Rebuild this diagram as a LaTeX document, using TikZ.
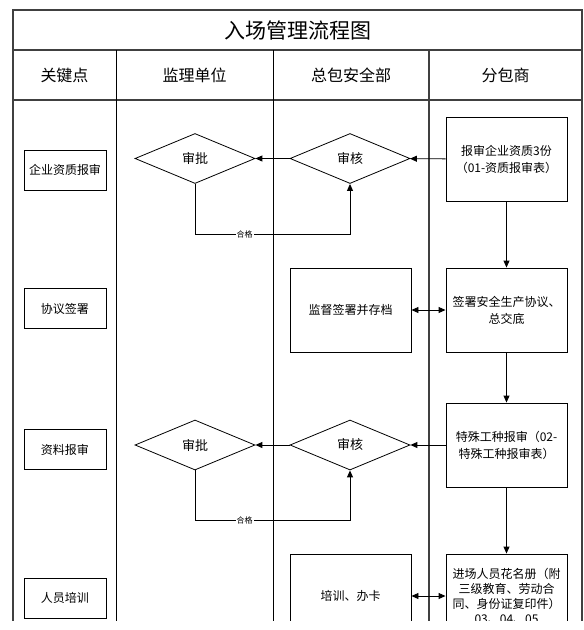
\documentclass[tikz,border=0pt]{standalone}
\usepackage{fontspec}
\setmainfont{Noto Sans CJK SC}
\usetikzlibrary{arrows.meta,shapes.geometric}

\begin{document}
\begin{tikzpicture}[x=1pt, y=-1pt,
      every node/.style={font=\fontsize{12}{17}\selectfont},
      lane/.style={draw=black!75, line width=1.1pt},
      head/.style={font=\fontsize{16}{18}\selectfont},
      key/.style={draw, line width=0.9pt, minimum width=82pt, minimum height=40pt, inner sep=0pt},
      task/.style={draw, line width=0.9pt, minimum width=121pt, minimum height=84pt, align=center, inner sep=2pt},
      check/.style={diamond, draw, line width=0.8pt, minimum width=120pt, minimum height=50pt, inner sep=0pt, font=\fontsize{13}{15}\selectfont},
      arrow/.style={-{Triangle[length=7pt,width=6pt]}, line width=0.9pt},
      both/.style={{Triangle[length=7pt,width=6pt]}-{Triangle[length=7pt,width=6pt]}, line width=0.9pt},
      pass/.style={fill=white, inner sep=1pt, font=\fontsize{8}{9}\selectfont}
  ]
    \useasboundingbox (0,0) rectangle (584,630);
    \clip (0,0) rectangle (584,620);
    % swimlane frame
    \draw[lane] (13,10) rectangle (582,640);
    \draw[lane] (13,50) -- (582,50);
    \draw[lane] (13,100) -- (582,100);
    \draw[draw=black, line width=0.8pt] (116,50) -- (116,640);
    \draw[draw=black, line width=0.8pt] (273,50) -- (273,640);
    \draw[lane] (429,50) -- (429,640);
    \node[font=\fontsize{21}{24}\selectfont] (title) at (297.5,30) {入场管理流程图};
    \node[head] (h1) at (64.5,75) {关键点};
    \node[head] (h2) at (194.5,75) {监理单位};
    \node[head] (h3) at (351,75) {总包安全部};
    \node[head] (h4) at (505.5,75) {分包商};
    % key points
    \node[key] (k1) at (65,170) {企业资质报审};
    \node[key] (k2) at (65,308.5) {协议签署};
    \node[key] (k3) at (65,449.5) {资料报审};
    \node[key] (k4) at (65,598) {人员培训};
    % row 1
    \node[check] (pa1) at (195,158.5) {审批};
    \node[check] (ha1) at (350,158.5) {审核};
    \node[task] (sub1) at (506.5,159) {报审企业资质3份\\（01-资质报审表）};
    % row 2
    \node[task] (sign) at (350.5,310) {监督签署并存档};
    \node[task] (sub2) at (506.5,310) {签署安全生产协议、\\总交底};
    % row 3
    \node[check] (pa2) at (195,445) {审批};
    \node[check] (ha2) at (350,445) {审核};
    \node[task] (sub3) at (506.5,445) {特殊工种报审（02-\\特殊工种报审表）};
    % row 4
    \node[task] (train) at (350.5,596) {培训、办卡};
    \node[task, font=\fontsize{12}{15}\selectfont] (sub4) at (506.5,596) {进场人员花名册（附\\三级教育、劳动合\\同、身份证复印件）\\03、04、05};
    % flow
    \draw[arrow] (sub1) -- (ha1);
    \draw[arrow] (ha1) -- (pa1);
    \draw[arrow] (pa1.south) -- ++(0,51) -| node[pass, pos=0.16] {合格} (ha1.south);
    \draw[arrow] (sub1) -- (sub2);
    \draw[both] (sign) -- (sub2);
    \draw[arrow] (sub2) -- (sub3);
    \draw[arrow] (sub3) -- (ha2);
    \draw[arrow] (ha2) -- (pa2);
    \draw[arrow] (pa2.south) -- ++(0,50) -| node[pass, pos=0.16] {合格} (ha2.south);
    \draw[arrow] (sub3) -- (sub4);
    \draw[both] (train) -- (sub4);
\end{tikzpicture}
\end{document}
